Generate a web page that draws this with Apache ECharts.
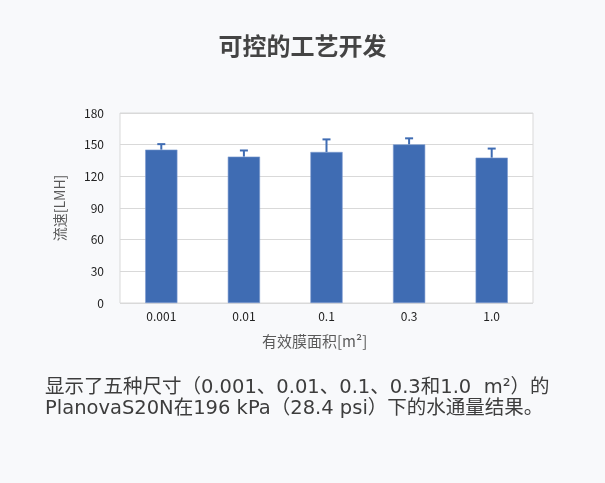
<!DOCTYPE html>
<html><head><meta charset="utf-8">
<script src="https://cdn.jsdelivr.net/npm/echarts@6/dist/echarts.min.js"></script>
<style>html,body{margin:0;padding:0;background:#f8f9fb;}#c{width:605px;height:483px;}</style>
</head><body><div id="c"></div>
<script>
var categories = ['0.001', '0.01', '0.1', '0.3', '1.0'];
var fluxValues = [145.3, 138.7, 143.1, 150.3, 137.7];
var errorTops = [150.5, 144.5, 155, 156, 146.3];
var yTicks = [0, 30, 60, 90, 120, 150, 180];

var FONT = '"Noto Sans CJK SC", "Noto Sans", sans-serif';
var CAPFONT = '"DejaVu Sans", "Noto Sans CJK SC", sans-serif';
var chart = echarts.init(document.getElementById('c'));
chart.setOption({
  backgroundColor: '#f8f9fb',
  animation: false,
  title: {
    text: '可控的工艺开发', left: 'center', top: 29,
    textStyle: { fontFamily: FONT, fontSize: 24, fontWeight: 'bold', color: '#444' }
  },
  grid: { left: 120, right: 72, top: 113, bottom: 180, show: true, backgroundColor: '#ffffff', borderColor: '#d9d9d9', borderWidth: 1 },
  xAxis: {
    type: 'category', data: categories,
    axisLine: { show: false }, axisTick: { show: false },
    axisLabel: { fontFamily: FONT, fontSize: 12, color: '#222', margin: 7 }
  },
  yAxis: {
    type: 'value', min: yTicks[0], max: yTicks[yTicks.length - 1], interval: 30,
    name: '流速[LMH]', nameLocation: 'middle', nameGap: 53, nameRotate: 90,
    nameTextStyle: { fontFamily: FONT, fontSize: 14, color: '#595959' },
    axisLine: { show: false }, axisTick: { show: false },
    axisLabel: { fontFamily: FONT, fontSize: 12, color: '#222', margin: 16 },
    splitLine: { lineStyle: { color: '#d9d9d9', width: 1 } }
  },
  series: [
    { type: 'bar', data: fluxValues, barWidth: '39%',
      itemStyle: { color: '#3f6cb3', borderColor: '#7c9ad0', borderWidth: 0.6 } },
    { type: 'custom', data: categories.map(function (c, i) { return [i, fluxValues[i], errorTops[i]]; }),
      z: 5,
      renderItem: function (params, api) {
        var i = api.value(0);
        var p0 = api.coord([i, api.value(1)]);
        var p1 = api.coord([i, api.value(2)]);
        var cap = 4;
        return { type: 'group', children: [
          { type: 'line', shape: { x1: p0[0], y1: p0[1], x2: p1[0], y2: p1[1] }, style: { stroke: '#3f6cb3', lineWidth: 2 } },
          { type: 'line', shape: { x1: p1[0] - cap, y1: p1[1], x2: p1[0] + cap, y2: p1[1] }, style: { stroke: '#3f6cb3', lineWidth: 2 } }
        ] };
      }
    }
  ],
  graphic: [
    { type: 'text', left: 262, top: 334, style: { text: '有效膜面积[m²]', fontFamily: FONT, fontSize: 15, fill: '#595959' } },
    { type: 'text', left: 45, top: 377, style: { text: '显示了五种尺寸（0.001、0.01、0.1、0.3和1.0  m²）的\nPlanovaS20N在196 kPa（28.4 psi）下的水通量结果。', fontFamily: CAPFONT, fontSize: 19.5, lineHeight: 21, fill: '#3d3d3d' } }
  ]
});
</script></body></html>
